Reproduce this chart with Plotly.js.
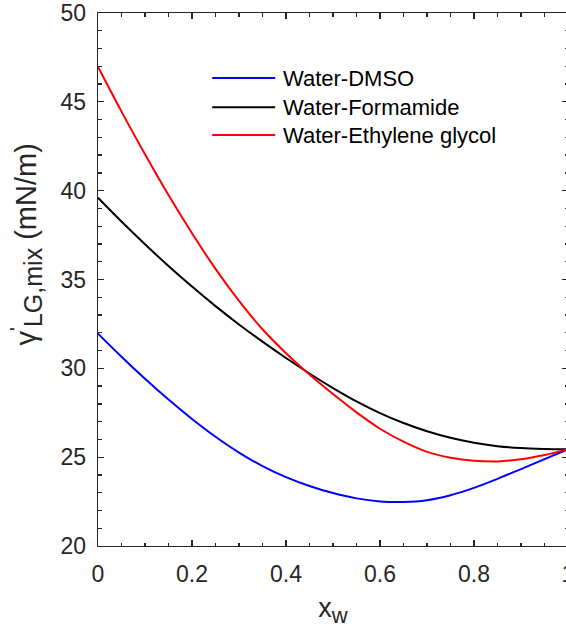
<!DOCTYPE html>
<html>
<head>
<meta charset="utf-8">
<script src="https://cdn.plot.ly/plotly-3.0.1.min.js"></script>
<style>
html, body { margin: 0; padding: 0; overflow: hidden; background: #fff; }
#chart { width: 572px; height: 634px; }
</style>
</head>
<body>
<div id="chart"></div>
<script>
// Mole fraction of water
const xw = [0, 0.05, 0.1, 0.15, 0.2, 0.25, 0.3, 0.35, 0.4, 0.45, 0.5,
            0.55, 0.6, 0.65, 0.7, 0.75, 0.8, 0.85, 0.9, 0.95, 1];

// Surface tension of mixtures (mN/m)
const waterDMSO = [31.95, 30.65, 29.41, 28.24, 27.15, 26.15, 25.26, 24.50, 23.88, 23.38, 22.98,
                   22.68, 22.51, 22.48, 22.58, 22.86, 23.27, 23.78, 24.33, 24.89, 25.44];
const waterFormamide = [39.60, 38.26, 36.98, 35.76, 34.60, 33.50, 32.47, 31.50, 30.58, 29.71, 28.89,
                        28.14, 27.48, 26.92, 26.46, 26.09, 25.81, 25.62, 25.51, 25.46, 25.44];
const waterEG = [46.97, 44.45, 42.05, 39.75, 37.60, 35.60, 33.80, 32.20, 30.85, 29.65, 28.55,
                 27.52, 26.60, 25.87, 25.30, 24.97, 24.80, 24.76, 24.88, 25.12, 25.45];

const seriesNames = ["Water-DMSO", "Water-Formamide", "Water-Ethylene glycol"];
const seriesColors = ["#0000ff", "#000000", "#ff0000"];

const xTickVals = [0, 0.2, 0.4, 0.6, 0.8, 1];
const xTickText = ["0", "0.2", "0.4", "0.6", "0.8", "1"];
const yTickVals = [20, 25, 30, 35, 40, 45, 50];
const yTickText = ["20", "25", "30", "35", "40", "45", "50"];

const xTitle = "x<sub><span style=\"font-size:22px\">w</span></sub>";
const yTitle = "γ<sup>'</sup><sub><span style=\"font-size:25px\">LG,mix</span></sub> (mN/m)";

const ys = [waterDMSO, waterFormamide, waterEG];
const traces = ys.map((y, i) => ({
  x: xw, y: y, type: "scatter", mode: "lines",
  name: seriesNames[i], showlegend: false,
  line: { color: seriesColors[i], width: 2, shape: "spline", smoothing: 1 }
}));

const axisColor = "#262626";
const fontFamily = "Liberation Sans, Arial, sans-serif";

// Legend drawn in the upper middle of the axes (line sample + label per series)
const legendRowsY = [0.878, 0.823, 0.771];
const legendLineX = [0.243, 0.377];
const legendTextX = 0.389;
const shapes = seriesNames.map((n, i) => ({
  type: "line", xref: "paper", yref: "paper",
  x0: legendLineX[0], x1: legendLineX[1], y0: legendRowsY[i], y1: legendRowsY[i],
  line: { color: seriesColors[i], width: 2 }
}));
const annotations = seriesNames.map((n, i) => ({
  text: n, xref: "paper", yref: "paper", x: legendTextX, y: legendRowsY[i],
  xanchor: "left", yanchor: "middle", showarrow: false,
  font: { family: fontFamily, size: 22, color: "#000" }
}));
// y-axis title
annotations.push({
  text: yTitle, xref: "paper", yref: "paper", x: -0.152, y: 0.565,
  xanchor: "center", yanchor: "middle", showarrow: false, textangle: -90,
  font: { family: fontFamily, size: 29, color: axisColor }
});

const layout = {
  width: 572, height: 634,
  margin: { l: 98, r: 4, t: 13, b: 88 },
  paper_bgcolor: "#fff", plot_bgcolor: "#fff",
  font: { family: fontFamily, color: axisColor },
  showlegend: false,
  shapes: shapes,
  annotations: annotations,
  xaxis: {
    range: [0, 1], tickmode: "array", tickvals: xTickVals, ticktext: xTickText,
    ticks: "inside", ticklen: 6, tickwidth: 1.3, tickcolor: axisColor,
    minor: { dtick: 0.05, ticks: "inside", ticklen: 3.5, tickwidth: 1.3, tickcolor: axisColor },
    showline: true, linecolor: axisColor, linewidth: 1.3, mirror: "ticks",
    showgrid: false, zeroline: false,
    tickfont: { size: 23, color: axisColor },
    ticklabelstandoff: 7,
    ticklabeloverflow: "allow",
    title: { text: xTitle, font: { size: 27, color: axisColor }, standoff: 12 }
  },
  yaxis: {
    range: [20, 50], tickmode: "array", tickvals: yTickVals, ticktext: yTickText,
    ticks: "inside", ticklen: 6, tickwidth: 1.3, tickcolor: axisColor,
    minor: { dtick: 1, ticks: "inside", ticklen: 3.5, tickwidth: 1.3, tickcolor: axisColor },
    showline: true, linecolor: axisColor, linewidth: 1.3, mirror: "ticks",
    showgrid: false, zeroline: false,
    tickfont: { size: 23, color: axisColor },
    ticklabelstandoff: 6,
    ticklabeloverflow: "allow"
  }
};

Plotly.newPlot("chart", traces, layout, { displayModeBar: false, staticPlot: true });
</script>
</body>
</html>
